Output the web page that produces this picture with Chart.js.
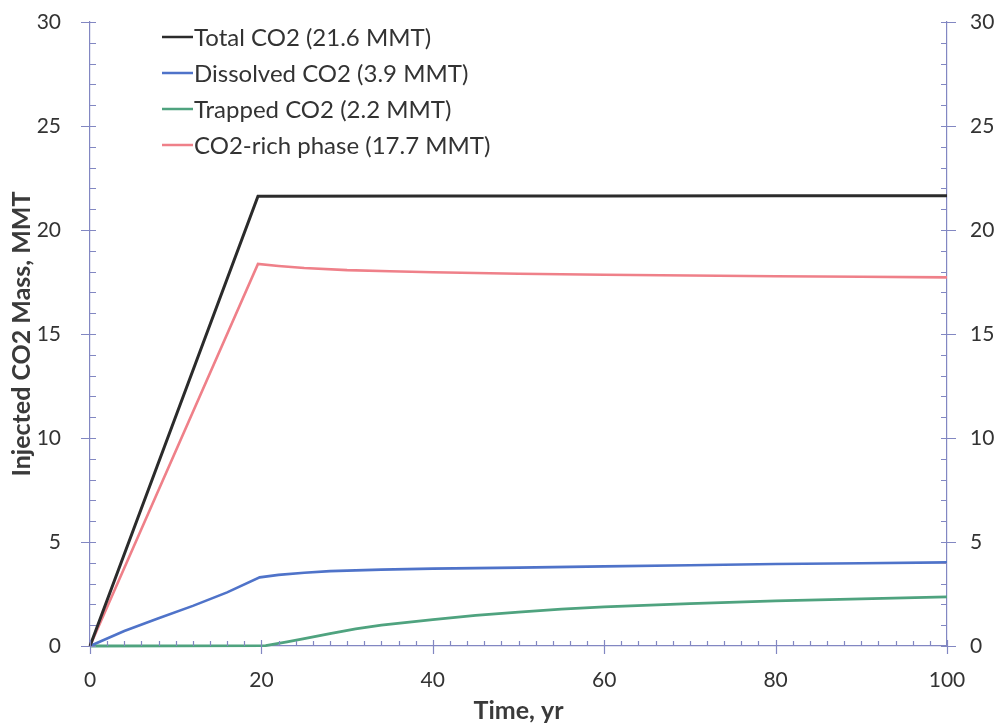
<!DOCTYPE html>
<html>
<head>
<meta charset="utf-8">
<script src="https://cdn.jsdelivr.net/npm/chart.js@4.4.0/dist/chart.umd.min.js"></script>
<style>
  html, body { margin: 0; padding: 0; background: #fff; }
  #wrap { width: 999px; height: 728px; }
</style>
</head>
<body>
<div id="wrap"><canvas id="myChart"></canvas></div>
<script>
// time (yr) and mass (MMT)
var totalT = [0, 19.6, 40, 60, 80, 100];
var totalV = [0, 21.62, 21.63, 21.64, 21.65, 21.65];

var dissolvedT = [0, 4, 8, 12, 16, 19.8, 22, 25, 28, 34, 40, 50, 60, 70, 80, 90, 100];
var dissolvedV = [0, 0.72, 1.33, 1.93, 2.58, 3.3, 3.42, 3.52, 3.6, 3.67, 3.72, 3.77, 3.83, 3.88, 3.94, 3.98, 4.02];

var trappedT = [0, 20.5, 23, 25, 28, 31, 34, 40, 45, 50, 55, 60, 70, 80, 90, 100];
var trappedV = [0, 0.02, 0.2, 0.35, 0.6, 0.82, 1.0, 1.27, 1.47, 1.63, 1.77, 1.88, 2.04, 2.17, 2.27, 2.36];

var richT = [0, 19.6, 22, 25, 30, 35, 40, 50, 60, 70, 80, 90, 100];
var richV = [0, 18.37, 18.27, 18.17, 18.07, 18.02, 17.97, 17.9, 17.85, 17.81, 17.78, 17.75, 17.72];

var seriesLabels = ["Total CO2 (21.6 MMT)", "Dissolved CO2 (3.9 MMT)", "Trapped CO2 (2.2 MMT)", "CO2-rich phase (17.7 MMT)"];
var seriesColors = ["#2b2b2b", "#4f73c9", "#4fa37f", "#ef8089"];

var xTickValues = [0, 20, 40, 60, 80, 100];
var yTickValues = [0, 5, 10, 15, 20, 25, 30];

var axisColor = "#8287c2";
var textColor = "#333333";
var fontName = "Lato";

function pts(t, v) {
    return t.map(function (x, i) { return { x: x, y: v[i] }; });
}

// minor + major tick marks like the original (crossing majors, inner minors)
var axisTicks = {
    id: "axisTicks",
    afterDraw: function (chart) {
        var ctx = chart.ctx, sx = chart.scales.x, sy = chart.scales.y, a = chart.chartArea;
        ctx.save();
        ctx.strokeStyle = axisColor;
        ctx.lineWidth = 1.2;
        ctx.beginPath();
        for (var v = 0; v <= 100; v += 2) {
            var px = Math.round(sx.getPixelForValue(v)) + 0.5;
            if (xTickValues.indexOf(v) >= 0) {
                ctx.moveTo(px, a.bottom - 6); ctx.lineTo(px, a.bottom + 8);
            } else {
                ctx.moveTo(px, a.bottom - 5); ctx.lineTo(px, a.bottom);
            }
        }
        for (var w = 0; w <= 30; w++) {
            var py = Math.round(sy.getPixelForValue(w)) + 0.5;
            if (yTickValues.indexOf(w) >= 0) {
                ctx.moveTo(a.left - 9, py); ctx.lineTo(a.left + 6, py);
                ctx.moveTo(a.right - 6, py); ctx.lineTo(a.right + 9, py);
            } else {
                ctx.moveTo(a.left, py); ctx.lineTo(a.left + 6, py);
                ctx.moveTo(a.right - 6, py); ctx.lineTo(a.right, py);
            }
        }
        ctx.stroke();
        ctx.restore();
    }
};

// legend drawn inside the plot, top left
var insideLegend = {
    id: "insideLegend",
    afterDraw: function (chart) {
        var ctx = chart.ctx;
        ctx.save();
        ctx.font = "24px " + fontName;
        ctx.textBaseline = "middle";
        ctx.fillStyle = textColor;
        chart.data.datasets.forEach(function (ds, i) {
            var yy = 37 + i * 36;
            ctx.strokeStyle = ds.borderColor;
            ctx.lineWidth = 2.5;
            ctx.beginPath();
            ctx.moveTo(162, yy);
            ctx.lineTo(193, yy);
            ctx.stroke();
            ctx.fillText(ds.label, 194, yy + 1);
        });
        ctx.restore();
    }
};

var datasets = [
    { label: seriesLabels[0], data: pts(totalT, totalV), borderColor: seriesColors[0], borderWidth: 3 },
    { label: seriesLabels[1], data: pts(dissolvedT, dissolvedV), borderColor: seriesColors[1], borderWidth: 2.6 },
    { label: seriesLabels[2], data: pts(trappedT, trappedV), borderColor: seriesColors[2], borderWidth: 2.8 },
    { label: seriesLabels[3], data: pts(richT, richV), borderColor: seriesColors[3], borderWidth: 2.6 }
];
datasets.forEach(function (d) {
    d.pointRadius = 0;
    d.tension = 0;
    d.fill = false;
    d.clip = false;
    d.yAxisID = "y";
});

function noPad(s) {
    s.paddingTop = 0;
    s.paddingBottom = 0;
}

new Chart("myChart", {
    type: "line",
    data: { datasets: datasets },
    plugins: [axisTicks, insideLegend],
    options: {
        responsive: true,
        maintainAspectRatio: false,
        animation: false,
        layout: { padding: { top: 22, left: 0, right: 0, bottom: 0 } },
        plugins: {
            legend: { display: false },
            tooltip: { enabled: false }
        },
        scales: {
            x: {
                type: "linear",
                min: 0,
                max: 100,
                grid: { display: false },
                border: { display: true, color: axisColor, width: 1.2 },
                ticks: {
                    stepSize: 20,
                    padding: 14,
                    color: textColor,
                    font: { family: fontName, size: 21 }
                },
                title: {
                    display: true,
                    text: "Time, yr",
                    color: "#3a3a3a",
                    font: { family: fontName, size: 25, weight: "bold" },
                    padding: { top: 0, bottom: 2 }
                },
                afterFit: function (s) { s.height = 82; }
            },
            y: {
                position: "left",
                min: 0,
                max: 30,
                grid: { display: false },
                border: { display: true, color: axisColor, width: 1.2 },
                ticks: {
                    stepSize: 5,
                    padding: 21,
                    color: textColor,
                    font: { family: fontName, size: 21 }
                },
                title: {
                    display: true,
                    text: "Injected CO2 Mass, MMT",
                    color: "#3a3a3a",
                    font: { family: fontName, size: 25, weight: "bold" },
                    padding: { top: 7, bottom: 0 }
                },
                afterFit: function (s) { s.width = 90; noPad(s); }
            },
            y2: {
                position: "right",
                min: 0,
                max: 30,
                grid: { display: false },
                border: { display: true, color: axisColor, width: 1.2 },
                ticks: {
                    stepSize: 5,
                    padding: 15,
                    color: textColor,
                    font: { family: fontName, size: 21 }
                },
                afterFit: function (s) { s.width = 52; noPad(s); }
            }
        }
    }
});
</script>
</body>
</html>
